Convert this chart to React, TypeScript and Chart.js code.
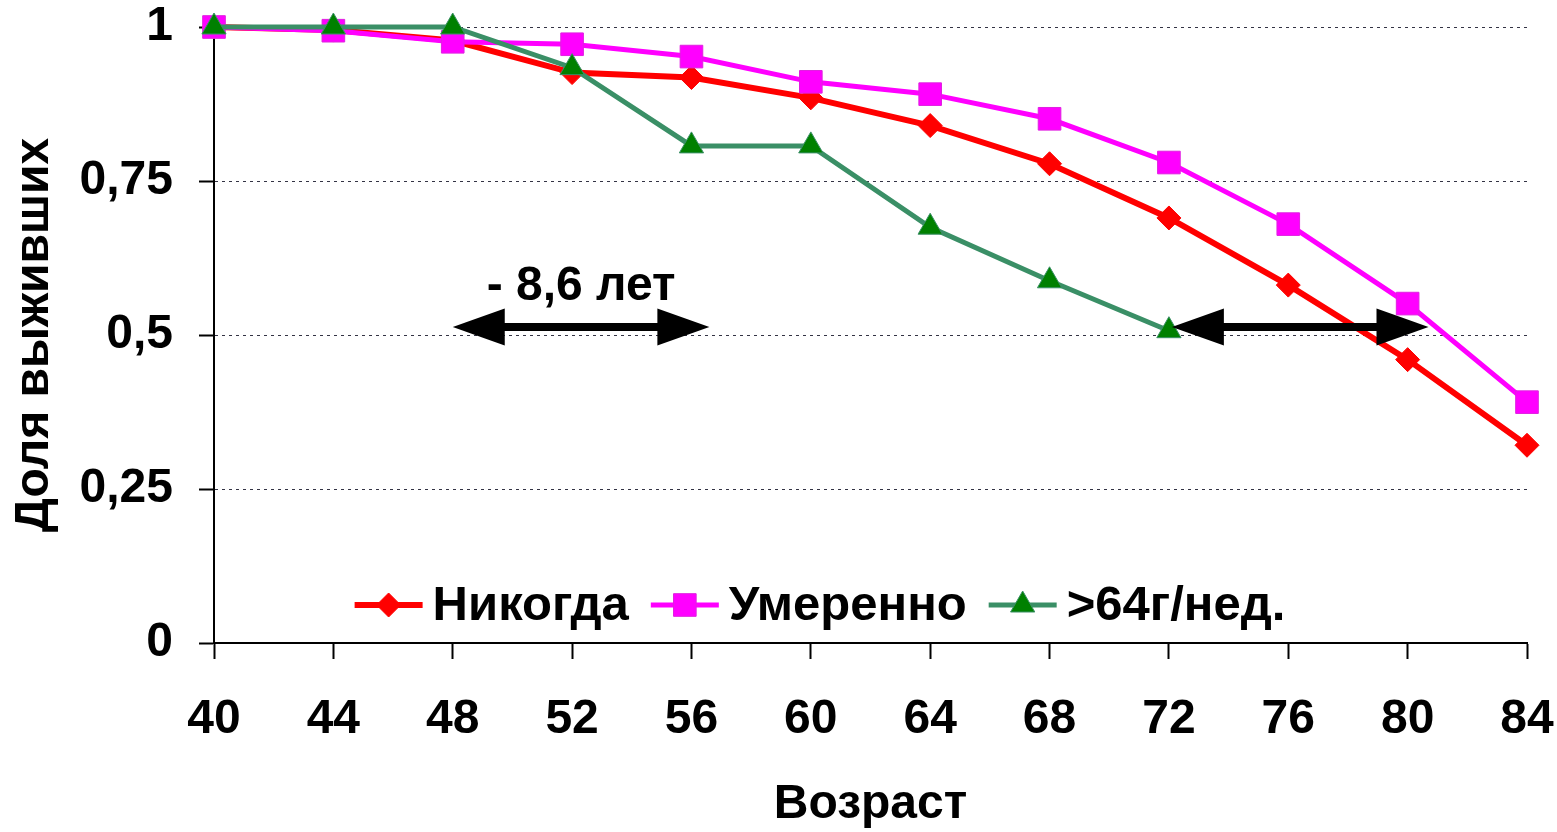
import React, { useEffect, useRef } from 'react';
import { Chart, registerables } from 'chart.js';

Chart.register(...registerables);

// ---- data ----
const ages = [40, 44, 48, 52, 56, 60, 64, 68, 72, 76, 80, 84];
const seriesLabels = ['Никогда', 'Умеренно', '>64г/нед.'];
const neverValues = [1, 0.995, 0.978, 0.926, 0.918, 0.885, 0.84, 0.778, 0.69, 0.581, 0.46, 0.321];
const moderateValues = [1, 0.994, 0.976, 0.972, 0.952, 0.911, 0.891, 0.851, 0.78, 0.68, 0.551, 0.391];
const heavyValues = [1, 1, 1, 0.934, 0.807, 0.807, 0.675, 0.588, 0.507, null, null, null];
const yTickValues = [0, 0.25, 0.5, 0.75, 1];
const yTickLabels = ['0', '0,25', '0,5', '0,75', '1'];
const xTitle = 'Возраст';
const yTitle = 'Доля выживших';
const arrowStarts = [48, 72.1];
const arrowEnds = [56.6, 80.7];
const arrowLevels = [0.513, 0.513];
const noteText = '- 8,6 лет';
const noteX = [52.3];
const noteY = [0.578];

const FONT = "'Liberation Sans', Arial, sans-serif";
const BIG = { family: FONT, size: 48, weight: 'bold' as const };

const toPoints = (vals: (number | null)[]) =>
  ages.map((a, i) => ({ x: a, y: vals[i] })).filter((p) => p.y !== null);

function drawMarker(ctx: CanvasRenderingContext2D, style: string, x: number, y: number, r: number) {
  ctx.beginPath();
  if (style === 'rectRot') {
    ctx.moveTo(x - r, y);
    ctx.lineTo(x, y - r);
    ctx.lineTo(x + r, y);
    ctx.lineTo(x, y + r);
  } else if (style === 'rect') {
    const s = Math.SQRT1_2 * r;
    ctx.rect(x - s, y - s, 2 * s, 2 * s);
  } else {
    const a = (Math.PI * 2) / 3;
    for (let k = 0; k < 3; k++) {
      const ang = -Math.PI / 2 + k * a;
      const px = x + Math.cos(ang) * r;
      const py = y + Math.sin(ang) * r;
      if (k === 0) ctx.moveTo(px, py);
      else ctx.lineTo(px, py);
    }
  }
  ctx.closePath();
  ctx.fill();
  ctx.stroke();
}

const annotationPlugin = {
  id: 'arrowsNote',
  afterDatasetsDraw(chart: any) {
    const { ctx, scales } = chart;
    const xs = scales.x;
    const ys = scales.y;
    ctx.save();
    ctx.fillStyle = '#000';
    ctx.strokeStyle = '#000';
    const headLen = 52;
    const headHalf = 18.5;
    for (let i = 0; i < arrowStarts.length; i++) {
      const x1 = xs.getPixelForValue(arrowStarts[i]);
      const x2 = xs.getPixelForValue(arrowEnds[i]);
      const y = ys.getPixelForValue(arrowLevels[i]);
      ctx.lineWidth = 8;
      ctx.beginPath();
      ctx.moveTo(x1 + headLen - 2, y);
      ctx.lineTo(x2 - headLen + 2, y);
      ctx.stroke();
      ctx.beginPath();
      ctx.moveTo(x1, y);
      ctx.lineTo(x1 + headLen, y - headHalf);
      ctx.lineTo(x1 + headLen, y + headHalf);
      ctx.closePath();
      ctx.fill();
      ctx.beginPath();
      ctx.moveTo(x2, y);
      ctx.lineTo(x2 - headLen, y - headHalf);
      ctx.lineTo(x2 - headLen, y + headHalf);
      ctx.closePath();
      ctx.fill();
    }
    ctx.font = `bold 48px ${FONT}`;
    ctx.textAlign = 'center';
    ctx.textBaseline = 'middle';
    ctx.fillText(noteText, xs.getPixelForValue(noteX[0]), ys.getPixelForValue(noteY[0]));
    ctx.restore();
  },
};

const legendPlugin = {
  id: 'insideLegend',
  afterDraw(chart: any) {
    const { ctx, chartArea } = chart;
    ctx.save();
    ctx.font = `bold 49px ${FONT}`;
    ctx.textBaseline = 'middle';
    ctx.textAlign = 'left';
    const seg = 68;
    const gapText = 10;
    const gapItem = 22;
    const dsets = chart.data.datasets;
    const widths = dsets.map((d: any) => ctx.measureText(d.label).width);
    const total =
      widths.reduce((s: number, w: number) => s + seg + gapText + w, 0) + gapItem * (dsets.length - 1);
    const centerX = 820;
    let x = centerX - total / 2;
    const y = chartArea.bottom - 38;
    dsets.forEach((d: any, i: number) => {
      ctx.strokeStyle = d.borderColor;
      ctx.lineWidth = d.borderWidth;
      ctx.beginPath();
      ctx.moveTo(x, y);
      ctx.lineTo(x + seg, y);
      ctx.stroke();
      ctx.fillStyle = d.pointBackgroundColor;
      ctx.strokeStyle = d.pointBorderColor;
      ctx.lineWidth = d.pointBorderWidth;
      drawMarker(ctx, d.pointStyle, x + seg / 2, y, d.pointRadius);
      ctx.fillStyle = '#000';
      ctx.fillText(d.label, x + seg + gapText, y + 1);
      x += seg + gapText + widths[i] + gapItem;
    });
    ctx.restore();
  },
};

export default function App() {
  const canvasRef = useRef<HTMLCanvasElement | null>(null);

  useEffect(() => {
    document.body.style.margin = '0';
    const canvas = canvasRef.current;
    if (!canvas) return;
    const chart = new Chart(canvas, {
      type: 'line',
      data: {
        datasets: [
          {
            label: seriesLabels[0],
            data: toPoints(neverValues),
            borderColor: '#ff0000',
            borderWidth: 6,
            pointStyle: 'rectRot',
            pointRadius: 12,
            pointBackgroundColor: '#ff0000',
            pointBorderColor: '#ff0000',
            pointBorderWidth: 1,
            clip: false,
            order: 2,
          },
          {
            label: seriesLabels[1],
            data: toPoints(moderateValues),
            borderColor: '#ff00ff',
            borderWidth: 5,
            pointStyle: 'rect',
            pointRadius: 16,
            pointBackgroundColor: '#ff00ff',
            pointBorderColor: '#e020e0',
            pointBorderWidth: 1,
            clip: false,
            order: 1,
          },
          {
            label: seriesLabels[2],
            data: toPoints(heavyValues),
            borderColor: '#3a8f66',
            borderWidth: 5,
            pointStyle: 'triangle',
            pointRadius: 14,
            pointBackgroundColor: '#008000',
            pointBorderColor: '#3a8f66',
            pointBorderWidth: 1,
            clip: false,
            order: 0,
          },
        ] as any,
      },
      options: {
        responsive: false,
        animation: false,
        devicePixelRatio: 1,
        layout: { autoPadding: false, padding: { top: 27, right: 30, left: 0, bottom: 0 } },
        plugins: {
          legend: { display: false },
          tooltip: { enabled: false },
        },
        scales: {
          x: {
            type: 'linear',
            min: 40,
            max: 84,
            ticks: { stepSize: 4, font: BIG, color: '#000', padding: 32, autoSkip: false, maxRotation: 0 },
            grid: { drawOnChartArea: false, drawTicks: true, tickLength: 16, tickColor: '#000', tickWidth: 2 },
            border: { color: '#000', width: 2 },
            title: { display: true, text: xTitle, font: BIG, color: '#000', padding: { top: 0, bottom: -2 } },
            afterFit: (s: any) => {
              s.height = 189;
              s.paddingLeft = 0;
              s.paddingRight = 0;
            },
          },
          y: {
            min: 0,
            max: 1,
            ticks: {
              stepSize: 0.25,
              font: BIG,
              color: '#000',
              padding: 26,
              callback: (v: any) => {
                const i = yTickValues.findIndex((t) => Math.abs(t - Number(v)) < 1e-9);
                return i >= 0 ? yTickLabels[i] : '';
              },
            },
            grid: { color: '#333344', lineWidth: 1, tickLength: 15, tickColor: '#000', tickWidth: 2, tickBorderDash: [] },
            border: { color: '#000', width: 2, dash: [3, 4] },
            title: { display: true, text: yTitle, font: BIG, color: '#000', padding: { top: 6, bottom: 0 } },
            afterFit: (s: any) => {
              s.width = 214;
              s.paddingTop = 0;
              s.paddingBottom = 0;
            },
          },
        },
      } as any,
      plugins: [annotationPlugin, legendPlugin],
    });
    return () => chart.destroy();
  }, []);

  return (
    <div style={{ width: 1557, height: 832, background: '#fff' }}>
      <canvas ref={canvasRef} width={1557} height={832} style={{ display: 'block' }} />
    </div>
  );
}
